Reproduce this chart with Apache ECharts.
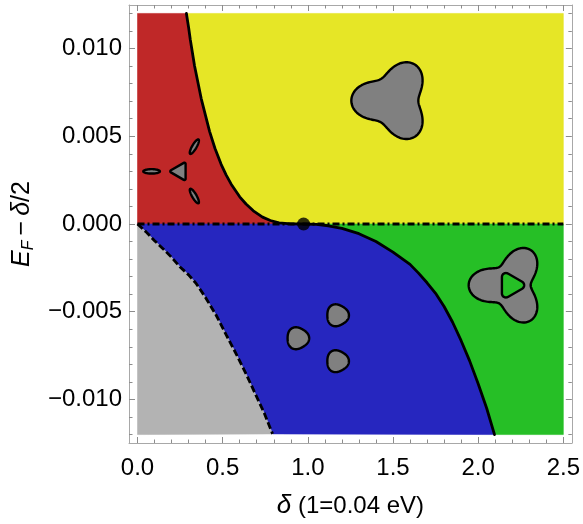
<!DOCTYPE html>
<html><head><meta charset="utf-8">
<script src="https://cdn.jsdelivr.net/npm/echarts@6/dist/echarts.min.js"></script>
<style>html,body{margin:0;padding:0;background:#fff}#c{width:583px;height:524px}</style>
</head><body><div id="c"></div>
<script>
// ---------- data ----------
// solid phase boundary above E=0 (top -> critical point)
const upperX = [0.287, 0.30, 0.31, 0.335, 0.374, 0.423, 0.455, 0.491, 0.52, 0.55, 0.6, 0.637, 0.68, 0.734, 0.78, 0.831, 0.9, 0.975];
const upperY = [0.012, 0.0112, 0.0105, 0.009, 0.00715, 0.00528, 0.0043, 0.0034, 0.0028, 0.00227, 0.00155, 0.00114, 0.00075, 0.00039, 0.0002, 0.00007, 0.00001, 0];
// solid phase boundary below E=0 (critical point -> bottom)
const lowerX = [0.975, 1.05, 1.12, 1.2, 1.3, 1.4, 1.5, 1.6, 1.65, 1.7, 1.75, 1.8, 1.85, 1.9, 1.95, 2.0, 2.05, 2.096];
const lowerY = [0, -0.00002, -0.0001, -0.00025, -0.00055, -0.001, -0.0016, -0.0023, -0.0028, -0.00335, -0.00395, -0.0047, -0.0056, -0.00665, -0.0078, -0.0091, -0.0105, -0.012];
// dashed boundary (gray / blue)
const dashX = [0, 0.05, 0.1, 0.151, 0.2, 0.25, 0.3, 0.345, 0.4, 0.462, 0.52, 0.579, 0.64, 0.695, 0.745, 0.793];
const dashY = [0, -0.00045, -0.00095, -0.00142, -0.0019, -0.00245, -0.0029, -0.0034, -0.0042, -0.0052, -0.0063, -0.0074, -0.0086, -0.00975, -0.0108, -0.01196];
// dash-dot line E_F - delta/2 = 0
const zeroLineX = [0, 2.5];
const zeroLineY = [0, 0];
// critical point
const critX = [0.975];
const critY = [0];
// data extent
const xLo = 0, xHi = 2.5, yLo = -0.012, yHi = 0.012;
// Fermi-surface insets (centre positions)
const insetX = [0.25, 1.502, 1.096, 2.185];
const insetY = [0.003, 0.00703, -0.00651, -0.00349];
const insetKind = ['triangle', 'trefoil', 'pockets', 'trefoilHole'];
// ticks
const xMajor = [0, 0.5, 1, 1.5, 2, 2.5];
const yMajor = [-0.01, -0.005, 0, 0.005, 0.01];

// ---------- styles ----------
const FONT = '"Liberation Sans", Arial, sans-serif';
const C = { red: '#BF2828', yellow: '#E6E626', blue: '#2626BF', green: '#26BF26', gray: '#B3B3B3', inset: '#808080' };
const frameColor = '#a8a8a8', tickColor = '#8c8c8c';

function minors(lo, hi, step, majors) {
  const out = []; const n = Math.round((hi - lo) / step);
  for (let i = 0; i <= n; i++) { const v = +(lo + i * step).toFixed(6); if (!majors.some(m => Math.abs(m - v) < 1e-9)) out.push(v); }
  return out;
}
const xMinor = minors(0, 2.5, 0.1, xMajor);
const yMinor = minors(-0.012, 0.012, 0.001, yMajor);

const pts = (xs, ys) => xs.map((x, i) => [x, ys[i]]);
const U = pts(upperX, upperY), L = pts(lowerX, lowerY), D = pts(dashX, dashY);
const regions = [
  { color: C.red, poly: [[xLo, 0], [xLo, yHi]].concat(U) },
  { color: C.yellow, poly: U.concat([[xHi, 0], [xHi, yHi]]) },
  { color: C.blue, poly: L.concat(D.slice().reverse()) },
  { color: C.gray, poly: D.concat([[xLo, yLo]]) },
  { color: C.green, poly: L.concat([[xHi, yLo], [xHi, 0]]) }
];

const X_MIN = -0.05, X_MAX = 2.55, Y_MIN = -0.01248, Y_MAX = 0.01248;

function xAx(pos, vals, len, line, label, extra) {
  return Object.assign({
    type: 'value', position: pos, min: X_MIN, max: X_MAX,
    axisLine: { show: line, onZero: false, lineStyle: { color: frameColor, width: 1 } },
    axisTick: { show: true, inside: true, length: len, customValues: vals, lineStyle: { color: tickColor, width: 1 } },
    axisLabel: { show: label, customValues: vals, formatter: v => v.toFixed(1), fontSize: 24, color: '#000', fontFamily: FONT, margin: 13 },
    splitLine: { show: false }
  }, extra || {});
}
function yAx(pos, vals, len, line, label, extra) {
  return Object.assign({
    type: 'value', position: pos, min: Y_MIN, max: Y_MAX,
    axisLine: { show: line, onZero: false, lineStyle: { color: frameColor, width: 1 } },
    axisTick: { show: true, inside: true, length: len, customValues: vals, lineStyle: { color: tickColor, width: 1 } },
    axisLabel: { show: label, customValues: vals, formatter: v => (v < -1e-12 ? '\u2212' : '') + Math.abs(v).toFixed(3), fontSize: 24, color: '#000', fontFamily: FONT, margin: 7 },
    splitLine: { show: false }
  }, extra || {});
}

// three-lobed outline in polar form r = R0 + A cos(3(t - rot))
function lobes(cx, cy, R0, A, rot) {
  const p = [], n = 180;
  for (let k = 0; k < n; k++) {
    const t = 2 * Math.PI * k / n, r = R0 + A * Math.cos(3 * (t - rot));
    p.push([cx + r * Math.cos(t), cy + r * Math.sin(t)]);
  }
  return p;
}
// triangle (circumradius Rp) with corners rounded by radius rho
function roundTri(cx, cy, Rp, rho, rot) {
  const p = [];
  for (let k = 0; k < 3; k++) {
    const va = rot + 2 * Math.PI * k / 3, vx = cx + Rp * Math.cos(va), vy = cy + Rp * Math.sin(va);
    for (let j = 0; j <= 12; j++) { const a = va - Math.PI / 3 + (2 * Math.PI / 3) * j / 12; p.push([vx + rho * Math.cos(a), vy + rho * Math.sin(a)]); }
  }
  return p;
}
function ellipse(cx, cy, a, b, rot) {
  const p = [];
  for (let k = 0; k < 60; k++) { const t = 2 * Math.PI * k / 60;
    p.push([cx + a * Math.cos(t) * Math.cos(rot) - b * Math.sin(t) * Math.sin(rot), cy + a * Math.cos(t) * Math.sin(rot) + b * Math.sin(t) * Math.cos(rot)]); }
  return p;
}
const outline = { stroke: '#000', lineWidth: 2.4, lineJoin: 'round' };
const dirs = [Math.PI, Math.PI / 3, -Math.PI / 3];

function insetShapes(kind, cx, cy) {
  const ch = [];
  const add = (points, fill) => ch.push({ type: 'polygon', shape: { points }, style: Object.assign({ fill }, outline) });
  if (kind === 'triangle') {
    add(roundTri(cx, cy, 8.6, 1.2, Math.PI), C.inset);
    dirs.forEach(a => add(ellipse(cx + 28.5 * Math.cos(a), cy + 28.5 * Math.sin(a), 8.3, 2.2, a), C.inset));
  } else if (kind === 'trefoil') {
    add(lobes(cx, cy, 33.5, 8.5, Math.PI), C.inset);
  } else if (kind === 'trefoilHole') {
    add(lobes(cx, cy, 31, 10, Math.PI), C.inset);
    add(roundTri(cx + 1, cy, 9.5, 4, 0), C.green);
  } else if (kind === 'pockets') {
    dirs.forEach(a => {
      const bx = cx + 26.5 * Math.cos(a), by = cy + 26.5 * Math.sin(a);
      add(lobes(bx, by, 10.8, 0.7, a + Math.PI), C.inset);
    });
  }
  return ch;
}

const chart = echarts.init(document.getElementById('c'), null, { renderer: 'canvas' });
chart.setOption({
  animation: false,
  backgroundColor: '#fff',
  grid: { left: 129, right: 9, top: 5, bottom: 75, containLabel: false },
  xAxis: [
    xAx('bottom', xMajor, 6, true, true, {
      name: '{e|\u03B4}{t| (1=0.04 eV)}', nameLocation: 'middle', nameGap: 50,
      nameTextStyle: { fontFamily: FONT, fontSize: 24, color: '#000',
        rich: { e: { fontStyle: 'italic', fontSize: 26, fontFamily: FONT, color: '#000' }, t: { fontSize: 24, fontFamily: FONT, color: '#000' } } }
    }),
    xAx('bottom', xMinor, 3.5, false, false),
    xAx('top', xMajor, 6, true, false),
    xAx('top', xMinor, 3.5, false, false)
  ],
  yAxis: [
    yAx('left', yMajor, 6, true, true, {
      name: '{e|E}{s|F}{t|\u2009\u2212\u2009}{e|\u03B4}{t|/2}', nameLocation: 'middle', nameGap: 60, nameRotate: 90,
      nameTextStyle: { fontFamily: FONT, fontSize: 25, color: '#000',
        rich: {
          e: { fontStyle: 'italic', fontSize: 25, lineHeight: 30, fontFamily: FONT, color: '#000' },
          t: { fontSize: 25, lineHeight: 30, fontFamily: FONT, color: '#000' },
          s: { fontStyle: 'italic', fontSize: 16, lineHeight: 16, verticalAlign: 'bottom', fontFamily: FONT, color: '#000' }
        } }
    }),
    yAx('left', yMinor, 3.5, false, false),
    yAx('right', yMajor, 6, true, false),
    yAx('right', yMinor, 3.5, false, false)
  ],
  series: [
    {
      type: 'custom', name: 'phases', xAxisIndex: 0, yAxisIndex: 0, z: 1, silent: true,
      data: regions.map((r, i) => [i]),
      renderItem: (params, api) => {
        const r = regions[api.value(0)];
        return { type: 'polygon', shape: { points: r.poly.map(p => api.coord(p)) }, style: { fill: r.color, stroke: r.color, lineWidth: 0.6 } };
      }
    },
    {
      type: 'line', name: 'zero', data: pts(zeroLineX, zeroLineY), symbol: 'none', z: 3, silent: true,
      lineStyle: { color: '#000', width: 2.8, type: [7, 3, 2, 3] }
    },
    {
      type: 'line', name: 'dashed', data: D, symbol: 'none', z: 3, silent: true,
      lineStyle: { color: '#000', width: 2.8, type: [7, 3] }
    },
    {
      type: 'line', name: 'solid', data: U.concat(L.slice(1)), symbol: 'none', z: 4, silent: true,
      lineStyle: { color: '#000', width: 2.8, cap: 'round', join: 'round' }
    },
    {
      type: 'scatter', name: 'critical', data: pts(critX, critY), symbol: 'circle', symbolSize: 13, z: 6, silent: true,
      itemStyle: { color: '#000' }
    },
    {
      type: 'custom', name: 'insets', z: 5, silent: true,
      data: insetX.map((x, i) => [x, insetY[i], i]),
      renderItem: (params, api) => {
        const c = api.coord([api.value(0), api.value(1)]);
        return { type: 'group', children: insetShapes(insetKind[api.value(2)], c[0], c[1]) };
      }
    }
  ]
});
</script>
</body></html>
